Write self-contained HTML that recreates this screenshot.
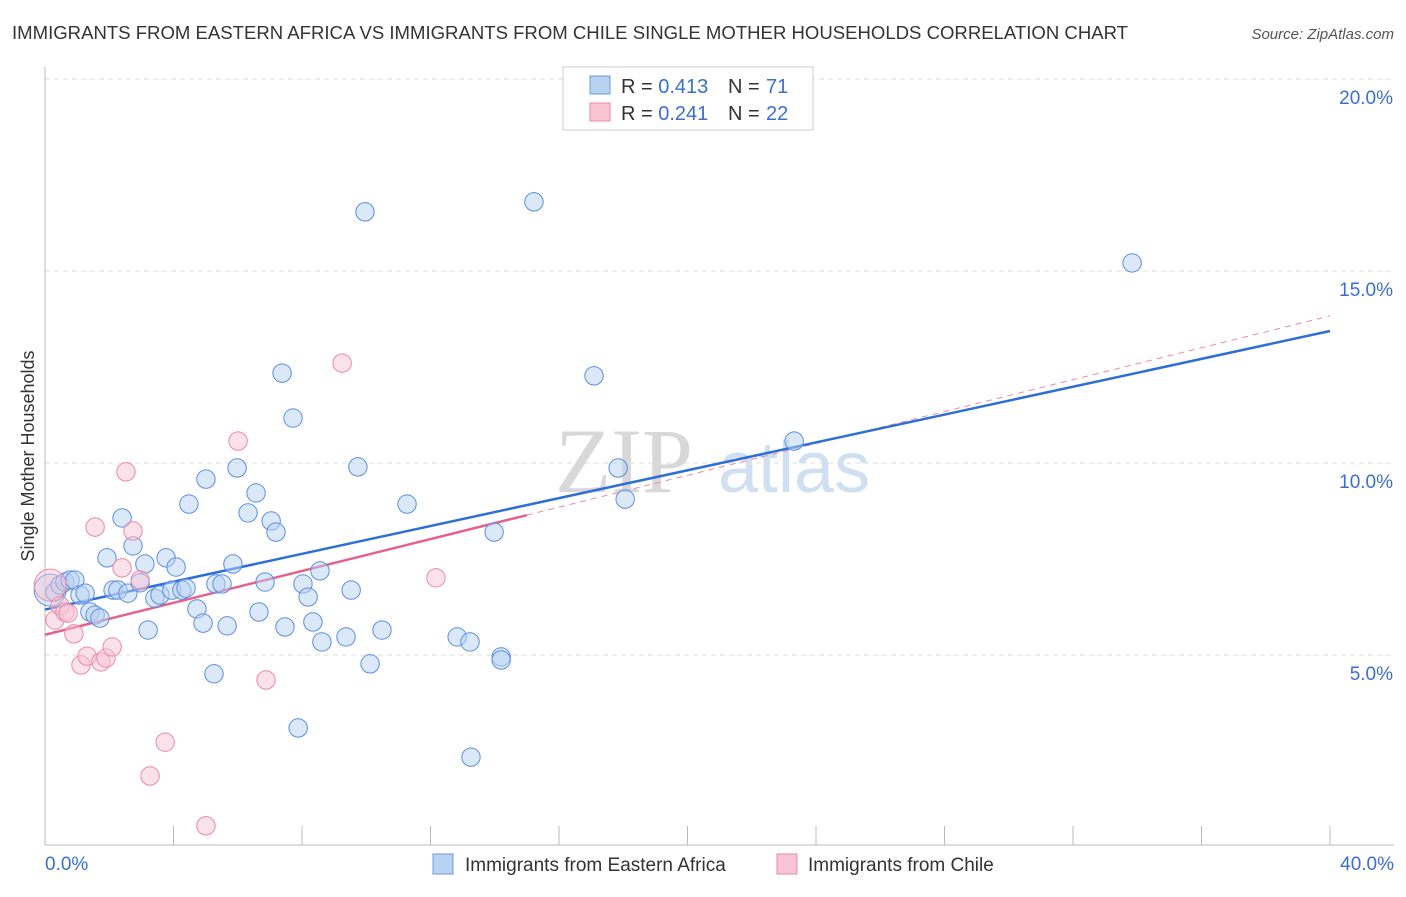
<!DOCTYPE html>
<html><head><meta charset="utf-8"><style>
body{margin:0;background:#fff;font-family:"Liberation Sans",sans-serif}
</style></head><body>
<svg width="1406" height="892" xmlns="http://www.w3.org/2000/svg" font-family="Liberation Sans, sans-serif">
<text x="12" y="39" font-size="18.5" fill="#333" textLength="1116" lengthAdjust="spacingAndGlyphs">IMMIGRANTS FROM EASTERN AFRICA VS IMMIGRANTS FROM CHILE SINGLE MOTHER HOUSEHOLDS CORRELATION CHART</text>
<text x="1394" y="39" font-size="15" fill="#555" font-style="italic" text-anchor="end">Source: ZipAtlas.com</text>
<text transform="translate(34,456) rotate(-90)" font-size="18" fill="#333" text-anchor="middle">Single Mother Households</text>
<g><text x="555" y="492" font-size="92" fill="#d8d8d8" font-family="Liberation Serif, serif">ZIP</text><text x="718" y="492" font-size="72" fill="#d0e0f2">atlas</text></g>
<g id="grid"></g><g id="axes"></g><g id="lines"></g><g id="pts"></g>
<g>
<rect x="563" y="67" width="250" height="63" fill="#fff" stroke="#ccc"/>
<rect x="590" y="76" width="20" height="18" fill="#b8d2f2" stroke="#6e9be0"/>
<rect x="590" y="103" width="20" height="18" fill="#f8c4d4" stroke="#e98aa8"/>
<text x="621" y="93" font-size="20" fill="#333">R = <tspan fill="#3a6fd0">0.413</tspan><tspan x="728">N = </tspan><tspan fill="#3a6fd0" x="766">71</tspan></text>
<text x="621" y="120" font-size="20" fill="#333">R = <tspan fill="#3a6fd0">0.241</tspan><tspan x="728">N = </tspan><tspan fill="#3a6fd0" x="766">22</tspan></text>
</g>
<g>
<rect x="433" y="854" width="20" height="20" fill="#b8d2f2" stroke="#6e9be0"/>
<text x="465" y="871" font-size="19" fill="#333">Immigrants from Eastern Africa</text>
<rect x="777" y="854" width="20" height="20" fill="#f8c4d4" stroke="#e98aa8"/>
<text x="808" y="871" font-size="19" fill="#333">Immigrants from Chile</text>
</g>
</svg>
<script>
const blueX=[0.16,0.31,0.47,0.62,0.78,0.93,1.09,1.25,1.40,1.56,1.71,1.93,2.12,2.27,2.40,2.58,2.74,2.96,3.11,3.21,3.42,3.58,3.77,3.95,4.08,4.26,4.39,4.48,4.73,4.92,5.01,5.26,5.32,5.51,5.67,5.85,5.98,6.32,6.57,6.66,6.85,7.04,7.19,7.38,7.47,7.72,8.03,8.19,8.34,8.56,8.62,9.37,9.53,9.74,9.96,10.12,10.49,11.27,12.83,13.23,13.98,14.20,14.20,7.88,13.26,15.22,17.09,17.84,18.06,23.32,33.84];
const blueY=[6.69,6.64,6.82,6.90,6.95,6.95,6.56,6.61,6.12,6.04,5.96,7.53,6.69,6.69,8.57,6.61,7.84,6.88,7.37,5.65,6.48,6.56,7.53,6.69,7.29,6.69,6.74,8.93,6.20,5.83,9.58,4.51,6.85,6.85,5.76,7.37,9.87,8.70,9.22,6.12,6.90,8.49,8.20,12.34,5.73,11.17,6.85,6.51,5.86,7.19,5.34,5.47,6.69,9.90,16.54,4.77,5.65,8.93,5.47,5.34,8.20,4.95,4.87,3.10,2.34,16.80,12.27,9.87,9.06,10.57,15.21];
const pinkX=[0.16,0.31,0.47,0.62,0.72,0.90,1.12,1.31,1.56,1.74,1.90,2.09,2.40,2.52,2.74,2.96,3.27,3.74,5.01,6.01,6.88,9.25,12.17];
const pinkY=[6.82,5.91,6.28,6.12,6.09,5.55,4.74,4.97,8.33,4.82,4.92,5.21,7.27,9.77,8.23,6.95,1.85,2.73,0.55,10.57,4.35,12.60,7.01];
const yTicks=[5,10,15,20];
const yTickLabels=["5.0%","10.0%","15.0%","20.0%"];
const xTicks=[0,4,8,12,16,20,24,28,32,36,40];
const xTickLabels=["0.0%","40.0%"];
const NS="http://www.w3.org/2000/svg";
const sx=v=>45+v/40*1285, sy=v=>847-v*38.4;
function mk(tag,attrs,parent){const e=document.createElementNS(NS,tag);for(const k in attrs)e.setAttribute(k,attrs[k]);document.getElementById(parent).appendChild(e);return e;}
yTicks.forEach((t,i)=>{
 const g=mk('line',{x1:45,x2:1394,y1:sy(t),y2:sy(t),stroke:'#ddd','stroke-dasharray':'5,4'},'grid');
 
 
 const l=mk('text',{x:1393,y:sy(t)+25,'font-size':19,fill:'#3a6fd0','text-anchor':'end'},'grid');
 l.textContent=yTickLabels[i];
 
 
});
const ax=mk('line',{x1:45,x2:45,y1:67,y2:845,stroke:'#bbb'},'axes');


const bx=mk('line',{x1:45,x2:1394,y1:845,y2:845,stroke:'#bbb'},'axes');


xTicks.forEach(t=>{
 const k=mk('line',{x1:sx(t),x2:sx(t),y1:826,y2:845,stroke:'#bbb'},'axes');
 
 
});
[[0,'start',45],[40,'end',1394]].forEach((a,i)=>{
 const l=mk('text',{x:a[2],y:870,'font-size':19,fill:'#3a6fd0','text-anchor':a[1]},'axes');
 l.textContent=xTickLabels[i];
 
 
});
function fit(X,Y){const n=X.length;let mx=0,my=0;X.forEach((x,i)=>{mx+=x;my+=Y[i]});mx/=n;my/=n;let sxy=0,sxx=0;X.forEach((x,i)=>{sxy+=(x-mx)*(Y[i]-my);sxx+=(x-mx)**2});const b=sxy/sxx;return [my-b*mx,b];}
const [ba,bb]=fit(blueX,blueY), [pa,pb]=fit(pinkX,pinkY);
const pmax=15.0;
const pd=mk('line',{x1:sx(pmax),y1:sy(pa+pb*pmax),x2:sx(40),y2:sy(pa+pb*40),stroke:'#e98aa8','stroke-dasharray':'6,5','stroke-width':1},'lines');


function dots(X,Y,fill,stroke,name){X.forEach((x,i)=>{const big=i===0;const c=mk('circle',{cx:sx(x),cy:sy(Y[i]),r:big?16:9.2,fill:fill,'fill-opacity':big?0.45:0.5,stroke:stroke,'stroke-width':1},'pts');
 
 });}
dots(blueX,blueY,'#b8d2f2','#5b8ee0','eastern-africa-point');
dots(pinkX,pinkY,'#f8c4d4','#e98aa8','chile-point');
const bl=mk('line',{x1:sx(0),y1:sy(ba),x2:sx(40),y2:sy(ba+bb*40),stroke:'#2e6fd6','stroke-width':2.5},'lines');


const pl=mk('line',{x1:sx(0),y1:sy(pa),x2:sx(pmax),y2:sy(pa+pb*pmax),stroke:'#e5608a','stroke-width':2.5},'lines');


</script>
</body></html>
